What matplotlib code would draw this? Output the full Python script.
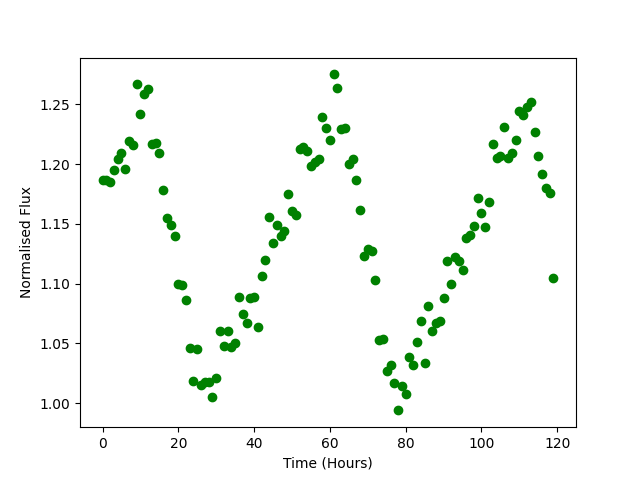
import numpy as np
import matplotlib
matplotlib.use("Agg")
import matplotlib.pyplot as plt

# hourly normalised flux readings
time_hours = np.arange(120)
flux = [1.187, 1.187, 1.185, 1.195, 1.204, 1.209, 1.196, 1.219, 1.216, 1.267,
        1.242, 1.259, 1.263, 1.217, 1.218, 1.209, 1.178, 1.155, 1.149, 1.140,
        1.100, 1.099, 1.086, 1.046, 1.019, 1.045, 1.015, 1.018, 1.018, 1.005,
        1.021, 1.060, 1.048, 1.060, 1.047, 1.050, 1.089, 1.075, 1.067, 1.088,
        1.089, 1.064, 1.106, 1.120, 1.156, 1.134, 1.149, 1.140, 1.144, 1.175,
        1.161, 1.157, 1.213, 1.214, 1.211, 1.198, 1.202, 1.204, 1.239, 1.230,
        1.220, 1.275, 1.264, 1.229, 1.230, 1.200, 1.204, 1.187, 1.162, 1.123,
        1.129, 1.127, 1.103, 1.053, 1.054, 1.027, 1.032, 1.017, 0.994, 1.014,
        1.008, 1.039, 1.032, 1.051, 1.069, 1.034, 1.081, 1.060, 1.067, 1.069,
        1.088, 1.119, 1.100, 1.122, 1.119, 1.111, 1.138, 1.141, 1.148, 1.172,
        1.159, 1.147, 1.168, 1.217, 1.205, 1.207, 1.231, 1.205, 1.209, 1.220,
        1.244, 1.241, 1.248, 1.252, 1.227, 1.207, 1.192, 1.180, 1.176, 1.105]

plt.figure(figsize=(6.4, 4.8), dpi=100)
plt.plot(time_hours, flux, "go")
plt.xlabel("Time (Hours)")
plt.ylabel("Normalised Flux")
plt.savefig("out.png")
